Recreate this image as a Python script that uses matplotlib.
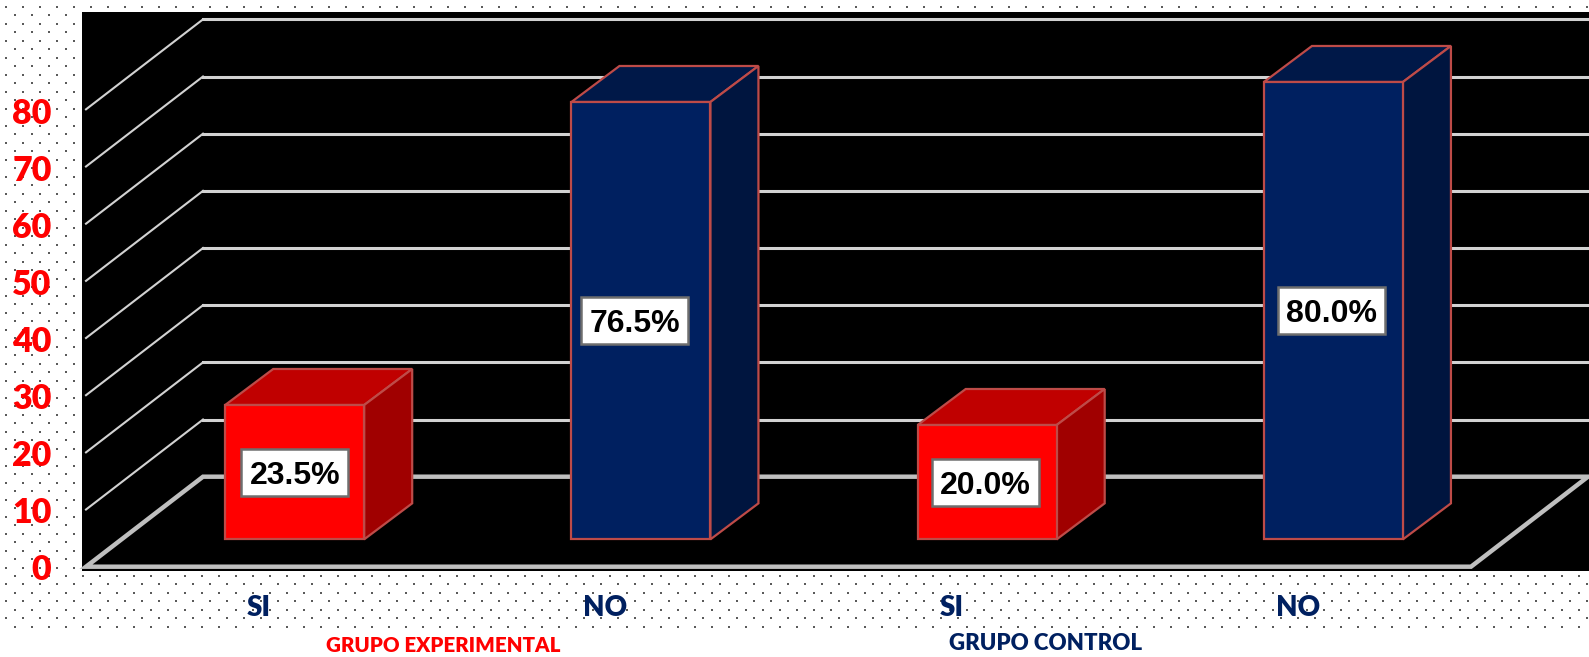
import numpy as np
import matplotlib.pyplot as plt
from matplotlib.patches import Polygon, Rectangle

categories = ["SI", "NO", "SI", "NO"]
values = [23.5, 76.5, 20.0, 80.0]
value_labels = ["23.5%", "76.5%", "20.0%", "80.0%"]
y_ticks = [0, 10, 20, 30, 40, 50, 60, 70, 80]
groups = ["GRUPO EXPERIMENTAL", "GRUPO CONTROL"]

NAVY = "#002060"
RED = "#FF0000"
EDGE = "#BE4B48"
GRID = "#D2D2D2"
FLOOR = "#BFBFBF"

# pseudo 3D box: everything goes through this oblique projection (pixels)
X0, Y0 = 86.0, 566.7
CAT_W = 346.25
PX_PER_UNIT = 5.717
DEPTH_X, DEPTH_Y = 117.0, -90.0


def proj(cat, val, depth=0.0):
    return (X0 + cat * CAT_W + depth * DEPTH_X,
            Y0 - val * PX_PER_UNIT + depth * DEPTH_Y)


fig = plt.figure(figsize=(15.89, 6.57), dpi=100)
ax = fig.add_axes([0, 0, 1, 1])
ax.set_xlim(0, 1589)
ax.set_ylim(657, 0)
ax.axis("off")

# dotted background
rows = np.arange(74)
for r in rows:
    xs = np.arange(6 if r % 2 == 0 else 14.5, 1589, 17)
    ax.scatter(xs, np.full(xs.shape, 6.7 + r * 8.497), s=2.2, marker="s",
               color="#5A5A5A", linewidths=0, zorder=1)

ax.add_patch(Rectangle((82, 12), 1507, 558.5, facecolor="black", edgecolor="none", zorder=2))

# wall lines + back grid
for t in y_ticks[1:]:
    ax.plot(*zip(proj(0, t), proj(0, t, 1)), color=GRID, lw=1.5, zorder=3)
    ax.plot(*zip(proj(0, t, 1), proj(4, t, 1)), color=GRID, lw=2.2, zorder=3)

# floor
ax.add_patch(Polygon([proj(0, 0), proj(0, 0, 1), proj(4, 0, 1), proj(4, 0)], closed=True,
                     facecolor="black", edgecolor=FLOOR, lw=3.2, zorder=3))

# bars
BAR_W = 139.0 / CAT_W
D_FRONT, D_BACK = 0.304, 0.704
SIDE_EXTRA = 1.2
LABEL_SHIFT = [0, -6, -1.5, -2]


def back(cat, val):
    x, y = proj(cat, val, D_BACK)
    return x + SIDE_EXTRA, y


for i, (val, txt) in enumerate(zip(values, value_labels)):
    front_c, top_c, side_c = (RED, "#C00000", "#A00000") if categories[i] == "SI" else (NAVY, "#001848", "#00153F")
    c0 = i + 0.5 - BAR_W / 2
    c1 = i + 0.5 + BAR_W / 2
    top = [proj(c0, val, D_FRONT), back(c0, val), back(c1, val), proj(c1, val, D_FRONT)]
    side = [proj(c1, 0, D_FRONT), proj(c1, val, D_FRONT), back(c1, val), back(c1, 0)]
    front = [proj(c0, 0, D_FRONT), proj(c0, val, D_FRONT), proj(c1, val, D_FRONT), proj(c1, 0, D_FRONT)]
    for pts, col in ((top, top_c), (side, side_c), (front, front_c)):
        ax.add_patch(Polygon(pts, closed=True, facecolor=col, edgecolor=EDGE, lw=1.6,
                             joinstyle="miter", zorder=4 + i))

    # value label in the middle of the front face
    cx, cy = proj(i + 0.5, val / 2, D_FRONT)
    cx += LABEL_SHIFT[i]
    ax.add_patch(Rectangle((cx - 53.5, cy - 23.5), 107, 47, facecolor="white",
                           edgecolor="#6E6E6E", lw=1.8, zorder=4.5 + i))
    ax.text(cx, cy, txt, ha="center", va="center_baseline", family="Liberation Sans",
            fontweight="bold", fontsize=23, color="black", zorder=4.6 + i)

# axis labels
for t in y_ticks:
    ax.text(51.5, 570 - 5.696 * t, str(t), ha="right", va="center", family="Lato",
            fontweight="heavy", fontsize=24.5, color=RED, zorder=10)

for i, cat in enumerate(categories):
    ax.text(proj(i + 0.5, 0)[0], 606, cat, ha="center", va="center_baseline", family="Lato",
            fontweight="heavy", fontsize=20, color=NAVY, zorder=10)

ax.text(443.5, 644, groups[0], ha="center", va="center_baseline", family="Lato",
        fontweight="heavy", fontsize=14.8, color=RED, zorder=10)
ax.text(1046, 642, groups[1], ha="center", va="center_baseline", family="Lato",
        fontweight="heavy", fontsize=16, color=NAVY, zorder=10)

fig.savefig("out.png", dpi=100, facecolor="white")
